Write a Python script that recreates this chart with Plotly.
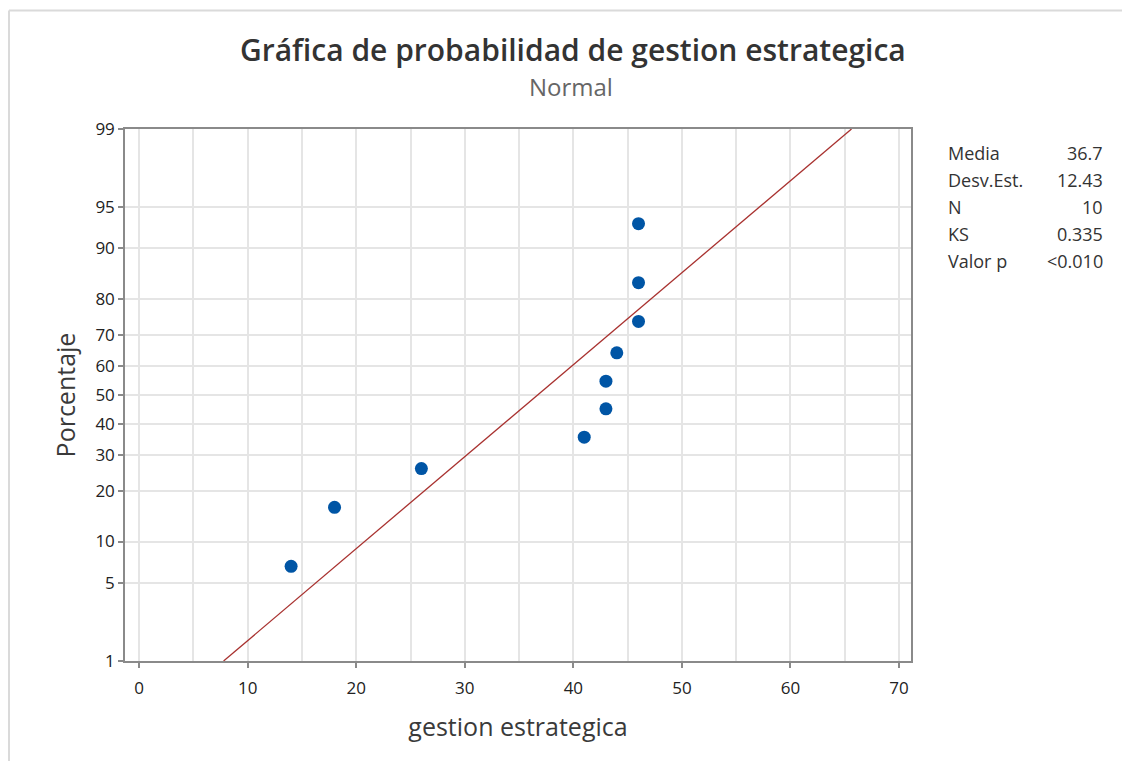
from statistics import NormalDist
import plotly.graph_objects as go

# ---- data ----
gestion = [14, 18, 26, 41, 43, 43, 44, 46, 46, 46]
porcentaje = [6.7, 16.3, 26.0, 35.6, 45.2, 54.8, 64.4, 74.0, 83.7, 93.3]
fit_x = [7.78, 65.62]
fit_pct = [1, 99]
y_ticks = [1, 5, 10, 20, 30, 40, 50, 60, 70, 80, 90, 95, 99]
x_ticks = [0, 10, 20, 30, 40, 50, 60, 70]
stat_labels = ["Media", "Desv.Est.", "N", "KS", "Valor p"]
stat_values = ["36.7", "12.43", "10", "0.335", "<0.010"]

nd = NormalDist()
def z(p):
    return nd.inv_cdf(p / 100.0)

FONT = "Open Sans"
OFF = 8  # page body margin
W, H = 1130 - OFF, 761 - OFF
L, T = 125 - OFF, 129 - OFF
pw, ph = 786, 532
R, B = W - L - pw, H - T - ph

def px(xp):
    return (xp - OFF - L) / pw

def py(yp):
    return (H - B - (yp - OFF)) / ph

fig = go.Figure()
fig.add_trace(go.Scatter(
    x=fit_x, y=[z(p) for p in fit_pct], mode="lines",
    line=dict(color="#A8312F", width=1.3), hoverinfo="skip", showlegend=False))
fig.add_trace(go.Scatter(
    x=gestion, y=[z(p) for p in porcentaje], mode="markers",
    marker=dict(color="#0055A5", size=13), showlegend=False))

axis_common = dict(
    showline=True, linecolor="#8A8A8A", linewidth=1.5, mirror=True,
    ticks="outside", ticklen=5, tickcolor="#8A8A8A", tickwidth=1.5,
    gridcolor="#E5E5E5", gridwidth=1.5, zeroline=False,
    tickfont=dict(family=FONT, size=17, color="#222222"),
)

fig.update_xaxes(
    range=[-1.3, 71.1], tickvals=x_ticks, ticklabelstandoff=6,
    minor=dict(dtick=5, tick0=0, showgrid=True, gridcolor="#E5E5E5", gridwidth=1.5, ticks=""),
    title=dict(text="gestion estrategica", font=dict(family=FONT, size=25, color="#3A3A3A"), standoff=20),
    **axis_common)
fig.update_yaxes(
    range=[z(1), z(99)], tickvals=[z(p) for p in y_ticks], ticktext=[str(p) for p in y_ticks],
    title=dict(text="Porcentaje", font=dict(family=FONT, size=25, color="#3A3A3A"), standoff=13),
    **axis_common)

ann = []
ann.append(dict(text="Gráfica de probabilidad de gestion estrategica", x=px(573), y=py(50),
                xref="paper", yref="paper", showarrow=False, xanchor="center", yanchor="middle",
                font=dict(family=FONT, size=30, color="#333333", weight=600)))
ann.append(dict(text="Normal", x=px(571), y=py(86),
                xref="paper", yref="paper", showarrow=False, xanchor="center", yanchor="middle",
                font=dict(family=FONT, size=24, color="#666666")))
rows_y = [153, 180, 207, 234, 261]
for lab, val, yy in zip(stat_labels, stat_values, rows_y):
    ann.append(dict(text=lab, x=px(946), y=py(yy), xref="paper", yref="paper", showarrow=False,
                    xanchor="left", yanchor="middle", font=dict(family=FONT, size=18, color="#333333")))
    ann.append(dict(text=val, x=px(1105), y=py(yy), xref="paper", yref="paper", showarrow=False,
                    xanchor="right", yanchor="middle", font=dict(family=FONT, size=18, color="#333333")))

# outer light border (top and left edges)
bx0 = px(9)
by_top = py(10.5)
shapes = [
    dict(type="line", xref="paper", yref="paper", x0=bx0, x1=px(1140), y0=by_top, y1=by_top,
         line=dict(color="#DADADA", width=2)),
    dict(type="line", xref="paper", yref="paper", x0=bx0, x1=bx0, y0=by_top, y1=py(770),
         line=dict(color="#DADADA", width=2)),
]

fig.update_layout(
    width=W, height=H, margin=dict(l=L, r=R, t=T, b=B),
    paper_bgcolor="white", plot_bgcolor="white",
    annotations=ann, shapes=shapes, showlegend=False,
    font=dict(family=FONT),
)

fig.write_html("out.html")
